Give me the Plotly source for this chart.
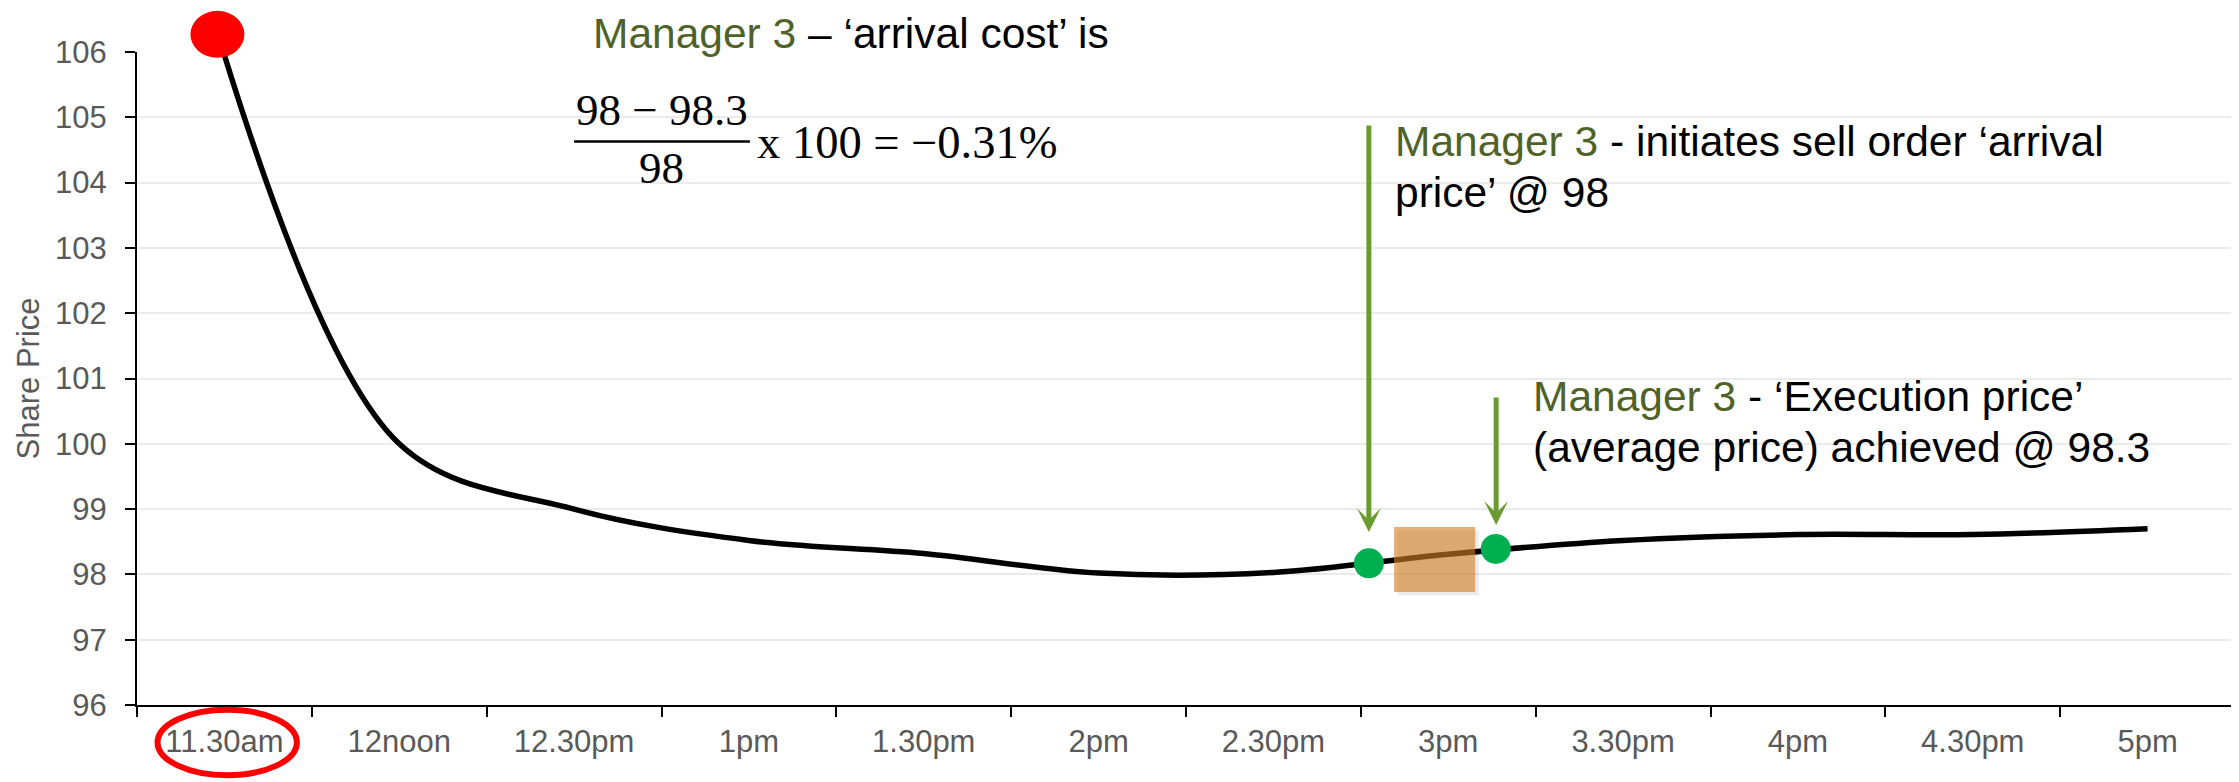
import plotly.graph_objects as go

# ---------------- data ----------------
time_hours = [11.5, 12.0, 12.5, 13.0, 13.5, 14.0, 14.5, 15.0, 15.5, 16.0, 16.5, 17.0]
time_labels = ["11.30am", "12noon", "12.30pm", "1pm", "1.30pm", "2pm",
               "2.30pm", "3pm", "3.30pm", "4pm", "4.30pm", "5pm"]
share_price = [105.95, 100.0, 99.0, 98.52, 98.32, 98.02, 98.03, 98.31, 98.52, 98.61, 98.61, 98.70]

start_point_x = 11.48
start_point_y = 106.27

trade_points_x = [14.773, 15.136]      # arrival / execution
trade_points_y = [98.17, 98.39]

exec_window_x = [14.845, 15.077]
exec_window_y = [97.73, 98.726]

y_range = [96, 106]
x_range = [11.25, 17.25]
boundary_ticks = [11.25 + 0.5 * i for i in range(13)]

GREEN_TXT = "#4F6228"
ARROW = "#6B9B30"
GREY = "#595959"
FONT = "Liberation Sans, Arial, sans-serif"
SERIF = "Liberation Serif, Times New Roman, serif"

def to_paper_y(v):
    return (v - y_range[0]) / (y_range[1] - y_range[0])

fig = go.Figure()

fig.add_trace(go.Scatter(
    x=time_hours, y=share_price, mode="lines",
    line=dict(color="black", width=5.5, shape="spline", smoothing=1.0),
    hoverinfo="skip", showlegend=False, cliponaxis=False))

fig.add_trace(go.Scatter(
    x=trade_points_x, y=trade_points_y, mode="markers",
    marker=dict(color="#00B050", size=30, line=dict(width=0)),
    showlegend=False, cliponaxis=False))

shapes = []
# red start marker (above the top of the axis)
shapes.append(dict(type="circle", xref="x", yref="paper", layer="above",
                   xsizemode="pixel", ysizemode="pixel",
                   xanchor=start_point_x, yanchor=to_paper_y(start_point_y),
                   x0=-27, x1=27, y0=-23.5, y1=23.5,
                   fillcolor="#FF0000", line=dict(width=0)))
# execution window (shadow + translucent box)
shapes.append(dict(type="rect", xref="x", yref="y", layer="above",
                   x0=exec_window_x[0] + 0.01, x1=exec_window_x[1] + 0.01,
                   y0=exec_window_y[0] - 0.05, y1=exec_window_y[1] - 0.05,
                   fillcolor="rgba(0,0,0,0.08)", line=dict(width=0)))
shapes.append(dict(type="rect", xref="x", yref="y", layer="above",
                   x0=exec_window_x[0], x1=exec_window_x[1],
                   y0=exec_window_y[0], y1=exec_window_y[1],
                   fillcolor="rgba(212,128,40,0.62)", line=dict(width=0)))
# fraction bar
shapes.append(dict(type="line", xref="x", yref="y", layer="above",
                   x0=12.50, x1=13.003, y0=104.63, y1=104.63,
                   line=dict(color="black", width=2.5)))
# red ellipse around first label
shapes.append(dict(type="circle", xref="paper", yref="paper", layer="above",
                   x0=0.0098, x1=0.0762, y0=-0.1075, y1=-0.0072,
                   line=dict(color="#FF0000", width=6), fillcolor="rgba(0,0,0,0)"))

ann = []
def txt(x, y, s, size=42.5, anchor="left", family=FONT, yref="y"):
    ann.append(dict(x=x, y=y, xref="x", yref=yref, text=s, showarrow=False,
                    xanchor=anchor, yanchor="middle",
                    font=dict(family=family, size=size, color="black")))

M3 = f"<span style='color:{GREEN_TXT}'>Manager 3</span>"
txt(13.292, 1.029, M3 + " – ‘arrival cost’ is", anchor="center", yref="paper")
txt(12.751, 105.11, "98 − 98.3", size=45, anchor="center", family=SERIF)
txt(12.751, 104.224, "98", size=45, anchor="center", family=SERIF)
txt(13.016, 104.62, "x 100 = −0.31%", size=46.5, anchor="left", family=SERIF)
txt(14.842, 104.637, M3 + " - initiates sell order ‘arrival")
txt(14.842, 103.856, "price’ @ 98")
txt(15.237, 100.732, M3 + " - ‘Execution price’")
txt(15.237, 99.951, "(average price) achieved @ 98.3")

# y-axis title
ann.append(dict(x=-0.0515, y=0.5, xref="paper", yref="paper", text="Share Price",
                textangle=-90, showarrow=False, xanchor="center", yanchor="middle",
                font=dict(family=FONT, size=31, color=GREY)))

for xa, tail, tip in [(14.773, 104.897, 98.649), (15.137, 100.732, 98.757)]:
    ann.append(dict(x=xa, y=tip, ax=xa, ay=tail, xref="x", yref="y",
                    axref="x", ayref="y", text="", showarrow=True,
                    arrowhead=3, arrowsize=0.8, arrowwidth=5,
                    arrowcolor=ARROW, standoff=0, startstandoff=0))

# page body has an 8px margin: figure is sized so the plot lands where intended
fig.update_layout(
    width=2231, height=774, autosize=False,
    margin=dict(l=129, r=4, t=44, b=77),
    paper_bgcolor="white", plot_bgcolor="white",
    shapes=shapes, annotations=ann,
    font=dict(family=FONT, color=GREY),
)

fig.update_xaxes(
    range=x_range, tickmode="array", tickvals=time_hours, ticktext=time_labels,
    ticks="", showgrid=False, zeroline=False,
    showline=True, linecolor="black", linewidth=2,
    tickfont=dict(family=FONT, size=31, color=GREY), ticklabelstandoff=8,
    minor=dict(tickmode="array", tickvals=boundary_ticks, ticks="outside",
               ticklen=10, tickwidth=1.5, tickcolor="black", showgrid=False),
)
fig.update_yaxes(
    range=y_range, tickmode="linear", tick0=96, dtick=1,
    ticks="outside", ticklen=10, tickwidth=1.5, tickcolor="black",
    showline=True, linecolor="black", linewidth=2,
    showgrid=True, gridcolor="#EBEBEB", gridwidth=1.5, zeroline=False,
    tickfont=dict(family=FONT, size=31, color=GREY), ticklabelstandoff=12,
)

fig.write_html("out.html")
